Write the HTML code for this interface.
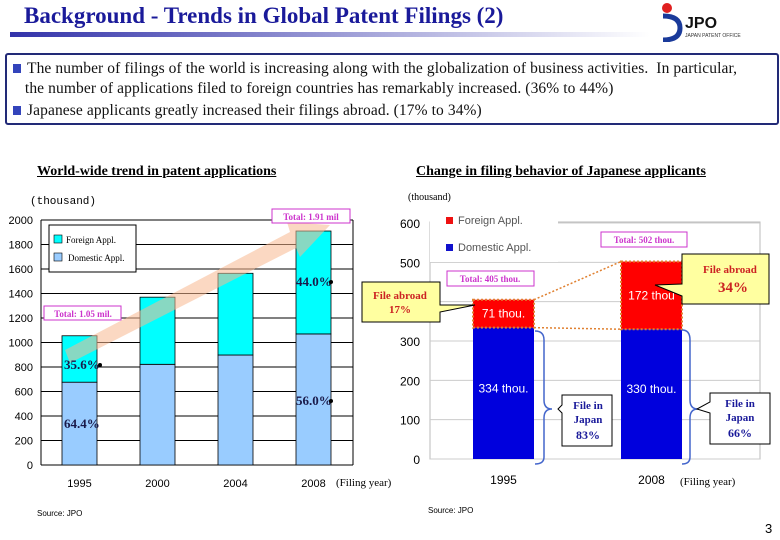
<!DOCTYPE html>
<html><head><meta charset="utf-8">
<style>
body{margin:0;width:780px;height:540px;background:#fff;overflow:hidden;position:relative;font-family:"Liberation Serif",serif;}
.abs{position:absolute;}
</style></head><body>
<div class="abs" style="left:24px;top:3px;font-size:23px;font-weight:bold;color:#1a1a9a;transform:scaleX(1.0);">Background - Trends in Global Patent Filings (2)</div>
<div class="abs" style="left:10px;top:32px;width:640px;height:5px;background:linear-gradient(90deg,#3333aa,#ffffff);"></div>
<div class="abs" style="left:655px;top:2px;width:125px;height:40px;">
 <svg width="125" height="40"><circle cx="12" cy="6" r="5" fill="#e02020"/><path d="M8 14 Q25 14 25 26 Q25 38 8 38" stroke="#1a3a9a" stroke-width="5" fill="none"/><text x="30" y="26" font-family="Liberation Sans" font-weight="bold" font-size="16" fill="#111">JPO</text><text x="30" y="35" font-family="Liberation Sans" font-size="5" fill="#333">JAPAN PATENT OFFICE</text></svg>
</div>
<div class="abs" style="left:5px;top:53px;width:770px;height:68px;border:2px solid #222a77;border-radius:3px;font-size:15.5px;line-height:20px;color:#111;letter-spacing:0.1px;">
 <div style="position:absolute;left:6px;top:4px;white-space:nowrap;"><span style="display:inline-block;width:8px;height:9px;background:#3344bb;margin-right:6px;"></span>The number of filings of the world is increasing along with the globalization of business activities.&nbsp; In particular,<br>&nbsp;&nbsp;&nbsp;the number of applications filed to foreign countries has remarkably increased. (36% to 44%)</div>
 <div style="position:absolute;left:6px;top:46px;white-space:nowrap;"><span style="display:inline-block;width:8px;height:9px;background:#3344bb;margin-right:6px;"></span>Japanese applicants greatly increased their filings abroad. (17% to 34%)</div>
</div>
<div class="abs" style="left:37px;top:164px;font-size:14px;font-weight:bold;text-decoration:underline;">World-wide trend in patent applications</div>
<div class="abs" style="left:416px;top:164px;font-size:14px;font-weight:bold;text-decoration:underline;">Change in filing behavior of Japanese applicants</div>
<svg class="abs" style="left:0;top:0" width="780" height="540" id="charts"></svg>
<script>
const leftYears=["1995","2000","2004","2008"];
const leftDomestic=[676,822,898,1070];
const leftForeign=[379,548,667,840];
const leftTicks=[0,200,400,600,800,1000,1200,1400,1600,1800,2000];
const rightYears=["1995","2008"];
const rightDomestic=[334,330];
const rightForeign=[71,172];
const rightTicks=[0,100,200,300,400,500,600];
const NS="http://www.w3.org/2000/svg";
const svg=document.getElementById('charts');
function mk(t,a,txt){const e=document.createElementNS(NS,t);for(const k in a)e.setAttribute(k,a[k]);if(txt!==undefined)e.textContent=txt;svg.appendChild(e);return e;}
const ly=v=>465-v*245/2000;
const lx=i=>62+i*78;
const lw=35;
mk('text',{x:30,y:204,'font-size':11,'font-family':'Liberation Mono'},'(thousand)');
leftTicks.forEach(t=>{
 const g=mk('line',{x1:41,x2:353,y1:ly(t),y2:ly(t),stroke:'#000','stroke-width':1});
 
 const l=mk('text',{x:33,y:ly(t)+4,'text-anchor':'end','font-size':11,'font-family':'Liberation Sans'},String(t));
 
});
mk('line',{x1:41,x2:41,y1:ly(2000),y2:ly(0),stroke:'#000'});
mk('line',{x1:353,x2:353,y1:ly(2000),y2:ly(0),stroke:'#000'});
leftYears.forEach((y,i)=>{
 const d=mk('rect',{x:lx(i),y:ly(leftDomestic[i]),width:lw,height:ly(0)-ly(leftDomestic[i]),fill:'#99ccff',stroke:'#000','stroke-width':0.8});
 
 const t=leftDomestic[i]+leftForeign[i];
 const f=mk('rect',{x:lx(i),y:ly(t),width:lw,height:ly(leftDomestic[i])-ly(t),fill:'#00ffff',stroke:'#000','stroke-width':0.8});
 
 const xl=mk('text',{x:lx(i)+lw/2,y:487,'text-anchor':'middle','font-size':11,'font-family':'Liberation Sans'},y);
 
});
mk('polygon',{points:'65,350 290,232 287,222 330,225 300,257 296,248 70,363',fill:'#f8b890',opacity:0.55});
mk('text',{x:336,y:486,'font-size':11},'(Filing year)');
mk('rect',{x:49,y:225,width:87,height:47,fill:'#fff',stroke:'#000'});
mk('rect',{x:54,y:235,width:8,height:8,fill:'#00ffff',stroke:'#000','stroke-width':0.6});
mk('text',{x:66,y:243,'font-size':9},'Foreign Appl.');
mk('rect',{x:54,y:253,width:8,height:8,fill:'#99ccff',stroke:'#000','stroke-width':0.6});
mk('text',{x:68,y:261,'font-size':9},'Domestic Appl.');
mk('rect',{x:272,y:209,width:78,height:14,fill:'#fff',stroke:'#cc33cc'});
mk('text',{x:311,y:220,'text-anchor':'middle','font-size':9,'font-weight':'bold',fill:'#cc33cc'},'Total: 1.91 mil');
mk('rect',{x:44,y:306,width:77,height:14,fill:'#fff',stroke:'#cc33cc'});
mk('text',{x:83,y:317,'text-anchor':'middle','font-size':9,'font-weight':'bold',fill:'#cc33cc'},'Total: 1.05 mil.');
[['35.6%',64,369,100],['64.4%',64,428,null],['44.0%',296,286,331],['56.0%',296,405,331]].forEach(a=>{
 mk('text',{x:a[1],y:a[2],'font-size':13,'font-weight':'bold',fill:'#1a1a4a'},a[0]);
 if(a[3])mk('circle',{cx:a[3],cy:a[2]-4,r:2,fill:'#000'});
});
mk('text',{x:37,y:516,'font-size':8,'font-family':'Liberation Sans'},'Source: JPO');
const ry=v=>459-v*236/600;
const rx=i=>473+i*148;
const rw=61;
mk('text',{x:408,y:200,'font-size':10},'(thousand)');
mk('rect',{x:430,y:222,width:330,height:237,fill:'#fff',stroke:'#bbb'});
rightTicks.forEach(t=>{
 const g=mk('line',{x1:430,x2:760,y1:ry(t),y2:ry(t),stroke:'#ccc','stroke-width':1});
 
 const l=mk('text',{x:420,y:ry(t)+5,'text-anchor':'end','font-size':12,'font-family':'Liberation Sans'},String(t));
 
});
mk('rect',{x:430,y:206,width:128,height:56,fill:'#fff'});
mk('rect',{x:446,y:217,width:7,height:7,fill:'#ee1111'});
mk('text',{x:458,y:224,'font-size':11,'font-family':'Liberation Sans',fill:'#555'},'Foreign Appl.');
mk('rect',{x:446,y:244,width:7,height:7,fill:'#1111cc'});
mk('text',{x:458,y:251,'font-size':11,'font-family':'Liberation Sans',fill:'#555'},'Domestic Appl.');
rightYears.forEach((y,i)=>{
 const d=mk('rect',{x:rx(i),y:ry(rightDomestic[i]),width:rw,height:ry(0)-ry(rightDomestic[i]),fill:'#0000dd'});
 
 const t=rightDomestic[i]+rightForeign[i];
 const f=mk('rect',{x:rx(i),y:ry(t),width:rw,height:ry(rightDomestic[i])-ry(t),fill:'#ff0000',stroke:'#e08030','stroke-dasharray':'2,2','stroke-width':2});
 
 mk('text',{x:rx(i)+rw/2,y:(ry(rightDomestic[i])+ry(0))/2-1,'text-anchor':'middle','font-size':12,'font-family':'Liberation Sans',fill:'#fff'},rightDomestic[i]+' thou.');
 mk('text',{x:rx(i)+rw/2,y:(ry(t)+ry(rightDomestic[i]))/2+4,'text-anchor':'middle','font-size':12,'font-family':'Liberation Sans',fill:'#fff'},rightForeign[i]+(i?' thou':' thou.'));
 const xl=mk('text',{x:rx(i)+rw/2,y:484,'text-anchor':'middle','font-size':12,'font-family':'Liberation Sans'},y);
 
});
mk('line',{x1:rx(0)+rw,y1:ry(405),x2:rx(1),y2:ry(502),stroke:'#e08030','stroke-dasharray':'2,2','stroke-width':1.5});
mk('line',{x1:rx(0)+rw,y1:ry(334),x2:rx(1),y2:ry(330),stroke:'#e08030','stroke-dasharray':'2,2','stroke-width':1.5});
mk('text',{x:680,y:485,'font-size':11},'(Filing year)');
mk('rect',{x:447,y:271,width:87,height:15,fill:'#fff',stroke:'#cc33cc'});
mk('text',{x:490,y:282,'text-anchor':'middle','font-size':9,'font-weight':'bold',fill:'#cc33cc'},'Total: 405 thou.');
mk('rect',{x:601,y:232,width:86,height:15,fill:'#fff',stroke:'#cc33cc'});
mk('text',{x:644,y:243,'text-anchor':'middle','font-size':9,'font-weight':'bold',fill:'#cc33cc'},'Total: 502 thou.');
mk('path',{d:'M362,282 H440 V305 L475,305 L440,312 V322 H362 Z',fill:'#ffffa0',stroke:'#000'});
mk('text',{x:400,y:299,'text-anchor':'middle','font-size':11,'font-weight':'bold',fill:'#cc2222'},'File abroad');
mk('text',{x:400,y:313,'text-anchor':'middle','font-size':11,'font-weight':'bold',fill:'#cc2222'},'17%');
mk('path',{d:'M682,254 H769 V304 H682 V296 L655,285 L682,284 Z',fill:'#ffffa0',stroke:'#000'});
mk('text',{x:730,y:273,'text-anchor':'middle','font-size':11,'font-weight':'bold',fill:'#cc2222'},'File abroad');
mk('text',{x:733,y:292,'text-anchor':'middle','font-size':15,'font-weight':'bold',fill:'#cc2222'},'34%');
mk('path',{d:'M535,331 Q544,331 544,340 V400 Q544,409 552,409 Q544,409 544,418 V457 Q544,464 535,464',fill:'none',stroke:'#4466cc','stroke-width':1.5});
mk('path',{d:'M682,330 Q690,330 690,340 V400 Q690,409 698,409 Q690,409 690,418 V457 Q690,464 682,464',fill:'none',stroke:'#4466cc','stroke-width':1.5});
mk('path',{d:'M562,395 H612 V446 H562 V413 L558,409 L562,405 Z',fill:'#fff',stroke:'#000'});
mk('text',{x:588,y:409,'text-anchor':'middle','font-size':11,'font-weight':'bold',fill:'#1a1a9a'},'File in');
mk('text',{x:588,y:423,'text-anchor':'middle','font-size':11,'font-weight':'bold',fill:'#1a1a9a'},'Japan');
mk('text',{x:588,y:439,'text-anchor':'middle','font-size':12,'font-weight':'bold',fill:'#1a1a9a'},'83%');
mk('path',{d:'M710,393 H770 V444 H710 V413 L697,409 L710,402 Z',fill:'#fff',stroke:'#000'});
mk('text',{x:740,y:407,'text-anchor':'middle','font-size':11,'font-weight':'bold',fill:'#1a1a9a'},'File in');
mk('text',{x:740,y:421,'text-anchor':'middle','font-size':11,'font-weight':'bold',fill:'#1a1a9a'},'Japan');
mk('text',{x:740,y:437,'text-anchor':'middle','font-size':12,'font-weight':'bold',fill:'#1a1a9a'},'66%');
mk('text',{x:428,y:513,'font-size':8,'font-family':'Liberation Sans'},'Source: JPO');
mk('text',{x:765,y:533,'font-size':13,'font-family':'Liberation Sans'},'3');
</script>
</body></html>
